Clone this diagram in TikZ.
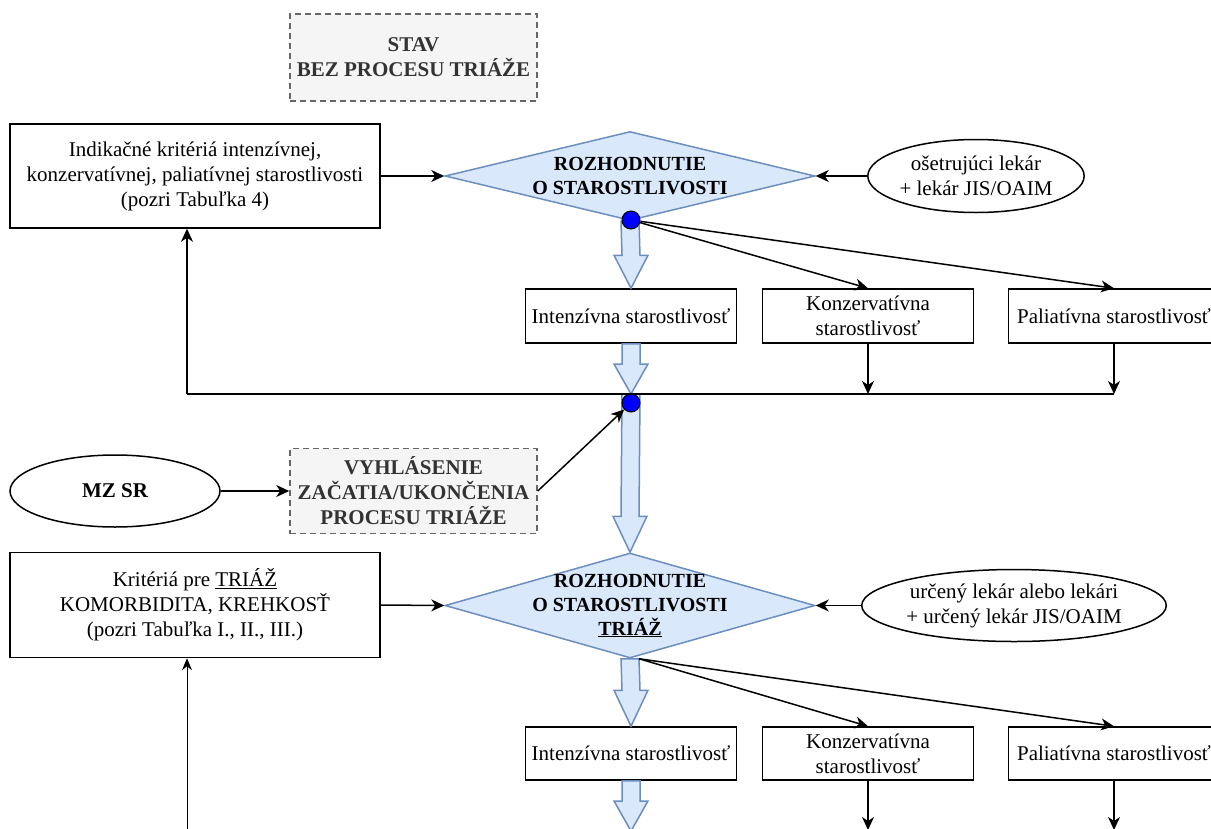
\documentclass[tikz,border=0pt]{standalone}
\usepackage{fontspec}
\setmainfont{Liberation Serif}
\usetikzlibrary{
    calc,
    shapes.geometric,
    arrows.meta
    }

\definecolor{flowfill}{HTML}{DAE8FC}
\definecolor{flowdraw}{HTML}{6C8EBF}
\definecolor{notefill}{HTML}{F5F5F5}
\definecolor{notedraw}{HTML}{666666}
\definecolor{notetext}{HTML}{333333}
\newcommand{\diagfont}{\fontsize{21}{25}\selectfont}

\begin{document}
\begin{tikzpicture}[x=1pt, y=-1pt, font=\diagfont]
\tikzset{card/.style =
        {
            rectangle,
            draw,
            line width=1.5pt,
            align=center,
            inner sep=2pt,
            fill=white
        }
}

\tikzset{note/.style =
        {
            card,
            draw=notedraw,
            fill=notefill,
            dash pattern=on 6pt off 4pt,
            text=notetext,
            font=\diagfont\bfseries
        }
}

\tikzset{actor/.style =
        {
            ellipse,
            draw,
            line width=1.5pt,
            align=center,
            inner sep=0pt,
            fill=white
        }
}

\tikzset{decision/.style =
        {
            diamond,
            draw=flowdraw,
            fill=flowfill,
            line width=1.5pt,
            inner sep=0pt
        }
}

\tikzset{decision text/.style =
        {
            align=center,
            inner sep=0pt,
            font=\fontsize{20}{24}\selectfont\bfseries
        }
}

\tikzset{hub/.style =
        {
            circle,
            draw=black,
            fill=blue,
            line width=1pt,
            minimum size=18pt,
            inner sep=0pt
        }
}

\tikzset{link/.style = {
            line width=1.5pt,
            -{Stealth[length=13pt, width=12pt, inset=4pt]}
        }
}

\tikzset{thin link/.style = {
            line width=1pt,
            -{Stealth[length=12pt, width=10pt, inset=4pt]}
        }
}

\tikzset{fat arrow/.style = {
            draw=flowdraw,
            fill=flowfill,
            line width=1.5pt,
            line join=miter
        }
}

\tikzset{pics/flex arrow/.style n args = {3}{
            code = {
                    \draw [fat arrow] ($(#1)+(-9,0)$) -- ($(#2)+(-9,-#3)$) -- ($(#2)+(-17,-#3)$) -- (#2)
                    -- ($(#2)+(17,-#3)$) -- ($(#2)+(9,-#3)$) -- ($(#1)+(9,0)$) -- cycle;
                }
        }
}

\useasboundingbox (0,0) rectangle (1211,828);
\clip (0,0) rectangle (1211,828);

% upper part: without triage
\node[note, minimum width=247pt, minimum height=87pt] (stav) at (413.5,57.5) {STAV\\BEZ PROCESU TRIÁŽE};
\node[card, minimum width=370pt, minimum height=104pt] (krit1) at (195,176) {Indikačné kritériá intenzívnej,\\konzervatívnej, paliatívnej starostlivosti\\(pozri Tabuľka 4)};
\node[decision, minimum width=370pt, minimum height=89pt] (d1) at (630,176) {};
\node[decision text] (d1 text) at (d1) {ROZHODNUTIE\\O STAROSTLIVOSTI};
\node[actor, minimum width=213pt, minimum height=73pt] (e1) at (976,176) {ošetrujúci lekár\\+ lekár JIS/OAIM};

\foreach \name / \x / \txt in
    {int1/631/Intenzívna starostlivosť,
        kon1/868/Konzervatívna\\starostlivosť,
        pal1/1114/Paliatívna starostlivosť}
\node[card, minimum width=211pt, minimum height=54pt] (\name) at (\x,316) {\txt};

\coordinate (j1) at (868,394);
\coordinate (j2) at (1114,394);
\coordinate (c1) at (187,394);

% lower part: triage
\node[actor, minimum width=210pt, minimum height=72pt, font=\diagfont\bfseries] (mz) at (115,491) {MZ SR};
\node[note, minimum width=247pt, minimum height=85pt] (vyh) at (413.5,491) {VYHLÁSENIE\\ZAČATIA/UKONČENIA\\PROCESU TRIÁŽE};
\node[card, minimum width=370pt, minimum height=105pt] (krit2) at (195,605) {Kritériá pre \underline{TRIÁŽ}\\KOMORBIDITA, KREHKOSŤ\\(pozri Tabuľka I., II., III.)};
\node[decision, minimum width=370pt, minimum height=105pt] (d2) at (630,605.5) {};
\node[decision text] (d2 text) at (d2) {ROZHODNUTIE\\O STAROSTLIVOSTI\\\underline{TRIÁŽ}};
\node[actor, minimum width=288pt, minimum height=72pt] (e2) at (1014,605.5) {určený lekár alebo lekári\\+ určený lekár JIS/OAIM};

\foreach \name / \x / \txt in
    {int2/631/Intenzívna starostlivosť,
        kon2/868/Konzervatívna\\starostlivosť,
        pal2/1114/Paliatívna starostlivosť}
\node[card, minimum width=211pt, minimum height=53pt] (\name) at (\x,753.5) {\txt};

\coordinate (d2 out) at ([xshift=9pt]d2.south);
\coordinate (j3) at (868,830);
\coordinate (j4) at (1114,830);
\coordinate (c2) at (187,840);
\coordinate (tail) at (631,831);

% block arrows
\pic {flex arrow={d1.south}{int1.north}{33}};
\pic {flex arrow={int1.south}{j2 -| int1.south}{30}};
\pic {flex arrow={j2 -| int1.south}{d2.north}{36}};
\pic {flex arrow={d2.south}{int2.north}{36}};
\pic {flex arrow={int2.south}{tail}{30}};

\node[hub] (dot1) at (631,220) {};
\node[hub] (dot2) at (631,403) {};

% connectors
\draw[link] (krit1.east) -- (d1.west);
\draw[link] (e1.west) -- (d1.east);
\foreach \finish in {kon1, pal1}
    \draw[link] (dot1) -- (\finish.north);
\draw[link] (kon1.south) -- (j1);
\draw[link] (pal1.south) -- (j2);
\draw[line width=1.5pt] (j2) -- (c1);
\draw[link] (c1) -- (c1 |- krit1.south);

\draw[link] (mz) -- (vyh);
\draw[link] (vyh.east) -- (dot2);

\draw[link] (krit2.east) -- (d2.west);
\draw[link] (e2.west) -- (d2.east);
\foreach \finish in {kon2, pal2}
    \draw[link] (d2 out) -- (\finish.north);
\draw[link] (kon2.south) -- (j3);
\draw[link] (pal2.south) -- (j4);
\draw[thin link] (c2) -- (c2 |- krit2.south);

\end{tikzpicture}
\end{document}
